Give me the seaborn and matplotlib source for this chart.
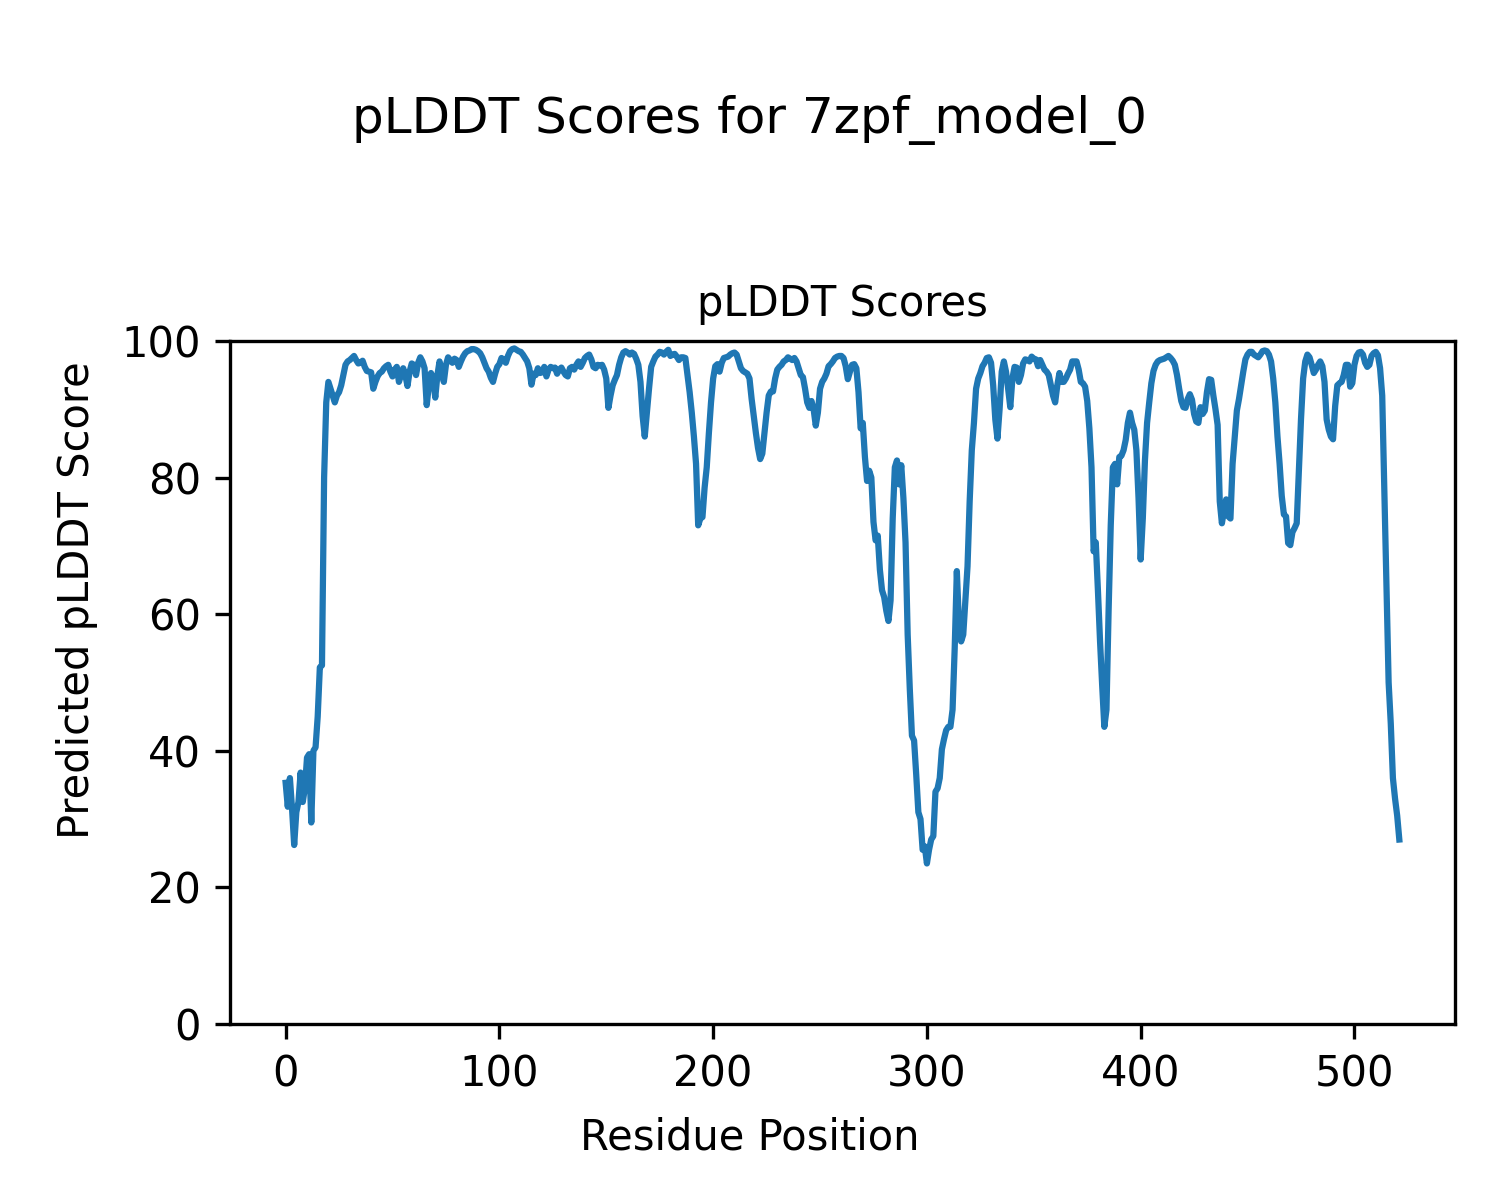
import numpy as np
import pandas as pd
import matplotlib
matplotlib.use("Agg")
import matplotlib.pyplot as plt
import seaborn as sns

suptitle_text = "pLDDT Scores for 7zpf_model_0"
title_text = "pLDDT Scores"
xlabel_text = "Residue Position"
ylabel_text = "Predicted pLDDT Score"

scores_000_099 = [
    35.3, 31.8, 36, 31.5, 26.2, 31, 32.5, 36.8, 32.5, 34.5,
    39, 39.5, 29.5, 40, 40.5, 45, 52.2, 52.5, 80, 91,
    94, 93, 92, 91, 92, 92.5, 93.5, 95, 96.5, 97,
    97.2, 97.5, 97.8, 97.2, 96.7, 96.8, 97.1, 96.2, 95.6, 95.5,
    95.4, 93, 94, 94.8, 95.3, 95.5, 96, 96.3, 96.5, 95.5,
    94.8, 95.8, 96.2, 94, 95, 96, 95, 93.4, 95.5, 96.7,
    96.5, 95, 96.8, 97.6, 97, 96, 90.6, 93.5, 95.3, 94.5,
    91.7, 95, 97, 95.5, 94, 96.5, 97.6, 97.2, 96.8, 97.4,
    97.2, 96.2, 97, 97.7, 98.2, 98.5, 98.6, 98.8, 98.8, 98.7,
    98.5, 98.2, 97.6, 96.8, 96, 95.5, 94.6, 94, 95.2, 96.2,
]
scores_100_199 = [
    96.6, 97.5, 97.2, 96.8, 97.8, 98.5, 98.8, 98.9, 98.7, 98.5,
    98.4, 98, 97.5, 97, 96, 93.6, 95.2, 95, 96, 95.3,
    95.4, 96.2, 94.8, 95.8, 96.2, 96, 96.1, 95.2, 95.8, 96.1,
    95.5, 95, 94.8, 96, 96.2, 95.8, 96.5, 97, 96.2, 96.8,
    97.5, 97.8, 98, 97.3, 96.2, 96, 96.5, 96.4, 96.5, 95.8,
    94.5, 90.2, 92, 93.5, 94.3, 95, 96.5, 97.6, 98.3, 98.5,
    98.3, 98, 98.3, 98.1, 97.4, 96.5, 94, 89, 86, 89.5,
    93, 96.2, 97, 97.7, 98, 98.4, 98.3, 98, 98.4, 98.7,
    97.8, 98, 98.1, 97.7, 97.2, 97.6, 97.6, 97.5, 95, 92.5,
    89.5, 86, 82, 73, 74, 74.2, 78.5, 81.5, 86.5, 91,
]
scores_200_299 = [
    94.5, 96.3, 96.6, 95.5, 96.8, 97.5, 97.6, 97.7, 98, 98.2,
    98.3, 98, 97, 96, 95.6, 95.4, 95.2, 94.5, 91.5, 89,
    86.5, 84.3, 82.7, 83.5, 86.5, 89.5, 92, 92.6, 92.6, 94.5,
    95.8, 96.2, 96.5, 97, 97.2, 97.6, 97.4, 97.2, 97.5, 97,
    96, 95, 94.7, 93, 91, 90.2, 91.2, 90, 87.6, 89.5,
    93, 94, 94.5, 95.2, 96.3, 96.6, 97, 97.5, 97.7, 97.8,
    97.8, 97.5, 96.3, 94.4, 95.5, 96.5, 96.6, 96, 92.5, 87.2,
    88, 83, 79.5, 81, 80, 73.5, 70.8, 71.5, 66.5, 63.5,
    62.5, 60.5, 59, 62, 74, 81.5, 82.5, 79, 81.8, 77,
    70.5, 57, 49, 42.2, 41.5, 36.5, 31, 30, 25.5, 26,
]
scores_300_399 = [
    23.5, 25.5, 27, 27.5, 34, 34.5, 36, 40.2, 41.7, 43,
    43.5, 43.5, 46, 55, 66.3, 58.5, 56, 57, 62, 67,
    76.5, 84, 88, 93, 94.5, 95.3, 96.3, 96.8, 97.5, 97.6,
    96.8, 93.5, 88.5, 85.7, 90, 95.5, 97, 95.5, 93, 90.3,
    94.5, 96.2, 96.1, 94, 95, 96.7, 97.3, 97.2, 97, 97.7,
    97.4, 97.3, 96.3, 97.2, 96.5, 95.8, 95.5, 95, 93.5, 92,
    91, 93.5, 95.3, 94, 94, 94.5, 95.2, 95.8, 97, 97,
    97, 95.8, 94, 93.8, 93.3, 91.2, 87.2, 81.5, 69.2, 70.5,
    63.5, 56, 49.5, 43.5, 46, 60.5, 73, 81.5, 82, 79,
    83, 83.2, 84, 85.5, 88, 89.5, 88, 87, 84, 77,
]
scores_400_521 = [
    68, 74, 82.5, 88, 91, 93.8, 95.6, 96.5, 97, 97.2,
    97.3, 97.4, 97.6, 97.8, 97.5, 97.1, 96.5, 95, 93, 91.2,
    90.3, 90.2, 91.5, 92.2, 91.4, 89.3, 88.2, 88, 90.3, 89.3,
    89.8, 92.5, 94.4, 94.3, 92, 90, 87.7, 76.5, 73.3, 75.2,
    76.8, 74.3, 74, 82, 86, 89.8, 91.5, 93.5, 95.5, 97.3,
    98, 98.4, 98.4, 98, 97.8, 97.6, 98, 98.5, 98.6, 98.5,
    98, 97, 94.5, 91, 86, 82, 77.3, 74.6, 74.3, 70.4,
    70.1, 72, 72.6, 73.3, 81, 88.5, 94.5, 97, 98, 97.6,
    96.5, 95.3, 95.8, 96.5, 97, 96.3, 94, 88.5, 87, 86,
    85.6, 90.5, 93.5, 93.8, 94, 95, 96.5, 96.5, 93.3, 93.8,
    96.5, 97.8, 98.3, 98.4, 98, 96.8, 96.2, 96.5, 97.8, 98.2,
    98.4, 97.9, 96, 92, 78, 64, 50, 44, 36, 33,
    30.5, 27,
]

scores = scores_000_099 + scores_100_199 + scores_200_299 + scores_300_399 + scores_400_521
residues = list(range(len(scores)))

df = pd.DataFrame({"Residue": residues, "pLDDT": scores})

fig = plt.figure(figsize=(5, 4), dpi=300)
ax = fig.add_axes([0.1533, 0.1467, 0.8167, 0.5692])
sns.lineplot(data=df, x="Residue", y="pLDDT", ax=ax, color="#1f77b4", linewidth=1.5)
ax.set_ylim(0, 100)
ax.set_title(title_text, fontsize=10)
ax.set_xlabel("")
ax.set_ylabel("")
fig.suptitle(suptitle_text, fontsize=12, y=0.9, va="center")
fig.supxlabel(xlabel_text, fontsize=10, y=0.0517, va="center")
fig.supylabel(ylabel_text, fontsize=10, x=0.0513, ha="center", va="center")
fig.savefig("out.png", dpi=300)
